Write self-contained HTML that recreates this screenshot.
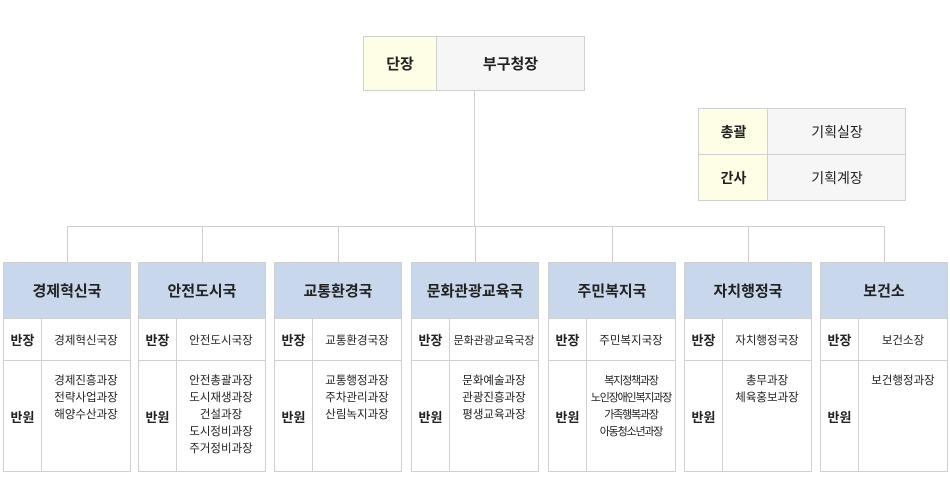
<!DOCTYPE html>
<html><head><meta charset="utf-8"><style>
body{margin:0;width:950px;height:487px;background:#fff;position:relative;font-family:"Liberation Sans","Noto Sans CJK KR",sans-serif;color:#222;overflow:hidden}
.a{position:absolute;box-sizing:border-box}
.ln{position:absolute;background:#cfcfcf}
.c{display:flex;align-items:center;justify-content:center}
.col{position:absolute;top:262px;width:128px;height:210px;border:1px solid #d0d0d0;box-sizing:border-box}
.h{position:absolute;left:0;top:0;width:126px;height:56px;background:#c9d7ec;font-size:15px;font-weight:bold;display:flex;align-items:center;justify-content:center;border-bottom:1px solid #d0d0d0;box-sizing:border-box}
.r1{position:absolute;left:0;top:56px;width:126px;height:42px;border-bottom:1px solid #d0d0d0;box-sizing:border-box}
.lb{position:absolute;left:0;width:38px;border-right:1px solid #d0d0d0;box-sizing:border-box;font-size:13px;font-weight:bold;display:flex;align-items:center;justify-content:center}
.r1 .lb{top:0;height:41px}
.r1 .v{position:absolute;left:38px;right:0;top:0;height:41px;font-size:11.5px;display:flex;align-items:center;justify-content:center;white-space:nowrap}
.r2 .lb{top:98px;height:110px}
.r2 .v{position:absolute;left:38px;right:0;top:110px;font-size:11.5px;line-height:17px;text-align:center;white-space:nowrap}
</style></head><body>
<div class="ln" style="left:474px;top:90px;width:1px;height:136px"></div>
<div class="ln" style="left:67px;top:226px;width:818px;height:1px"></div>
<div class="ln" style="left:67px;top:226px;width:1px;height:36px"></div>
<div class="ln" style="left:202px;top:226px;width:1px;height:36px"></div>
<div class="ln" style="left:338px;top:226px;width:1px;height:36px"></div>
<div class="ln" style="left:475px;top:226px;width:1px;height:36px"></div>
<div class="ln" style="left:612px;top:226px;width:1px;height:36px"></div>
<div class="ln" style="left:748px;top:226px;width:1px;height:36px"></div>
<div class="ln" style="left:884px;top:226px;width:1px;height:36px"></div>

<div class="a" style="left:363px;top:36px;width:222px;height:55px;border:1px solid #d0d0d0;background:#f6f6f6"></div>
<div class="a c" style="left:364px;top:37px;width:73px;height:53px;background:#fefde6;border-right:1px solid #d0d0d0;font-size:15px;font-weight:bold">단장</div>
<div class="a c" style="left:437px;top:37px;width:147px;height:53px;font-size:15px;font-weight:bold">부구청장</div>

<div class="a" style="left:698px;top:108px;width:208px;height:93px;border:1px solid #d0d0d0;background:#f6f6f6"></div>
<div class="a" style="left:699px;top:109px;width:69px;height:91px;background:#fefde6;border-right:1px solid #d0d0d0"></div>
<div class="a" style="left:699px;top:154px;width:206px;height:1px;background:#d0d0d0"></div>
<div class="a c" style="left:699px;top:109px;width:69px;height:45px;font-size:14px;font-weight:bold">총괄</div>
<div class="a c" style="left:699px;top:155px;width:69px;height:45px;font-size:14px;font-weight:bold">간사</div>
<div class="a c" style="left:769px;top:109px;width:136px;height:45px;font-size:14px">기획실장</div>
<div class="a c" style="left:769px;top:155px;width:136px;height:45px;font-size:14px">기획계장</div>

<div class="col" style="left:3px"><div class="h">경제혁신국</div><div class="r1"><div class="lb">반장</div><div class="v">경제혁신국장</div></div><div class="r2"><div class="lb">반원</div><div class="v">경제진흥과장<br>전략사업과장<br>해양수산과장</div></div></div>
<div class="col" style="left:138px"><div class="h">안전도시국</div><div class="r1"><div class="lb">반장</div><div class="v">안전도시국장</div></div><div class="r2"><div class="lb">반원</div><div class="v">안전총괄과장<br>도시재생과장<br>건설과장<br>도시정비과장<br>주거정비과장</div></div></div>
<div class="col" style="left:274px"><div class="h">교통환경국</div><div class="r1"><div class="lb">반장</div><div class="v">교통환경국장</div></div><div class="r2"><div class="lb">반원</div><div class="v">교통행정과장<br>주차관리과장<br>산림녹지과장</div></div></div>
<div class="col" style="left:411px"><div class="h">문화관광교육국</div><div class="r1"><div class="lb">반장</div><div class="v" style="font-size:11px">문화관광교육국장</div></div><div class="r2"><div class="lb">반원</div><div class="v">문화예술과장<br>관광진흥과장<br>평생교육과장</div></div></div>
<div class="col" style="left:548px"><div class="h">주민복지국</div><div class="r1"><div class="lb">반장</div><div class="v">주민복지국장</div></div><div class="r2"><div class="lb">반원</div><div class="v" style="letter-spacing:-1.2px;font-size:11px">복지정책과장<br>노인장애인복지과장<br>가족행복과장<br>아동청소년과장</div></div></div>
<div class="col" style="left:684px"><div class="h">자치행정국</div><div class="r1"><div class="lb">반장</div><div class="v">자치행정국장</div></div><div class="r2"><div class="lb">반원</div><div class="v">총무과장<br>체육홍보과장</div></div></div>
<div class="col" style="left:820px"><div class="h">보건소</div><div class="r1"><div class="lb">반장</div><div class="v">보건소장</div></div><div class="r2"><div class="lb">반원</div><div class="v">보건행정과장</div></div></div>
</body></html>
